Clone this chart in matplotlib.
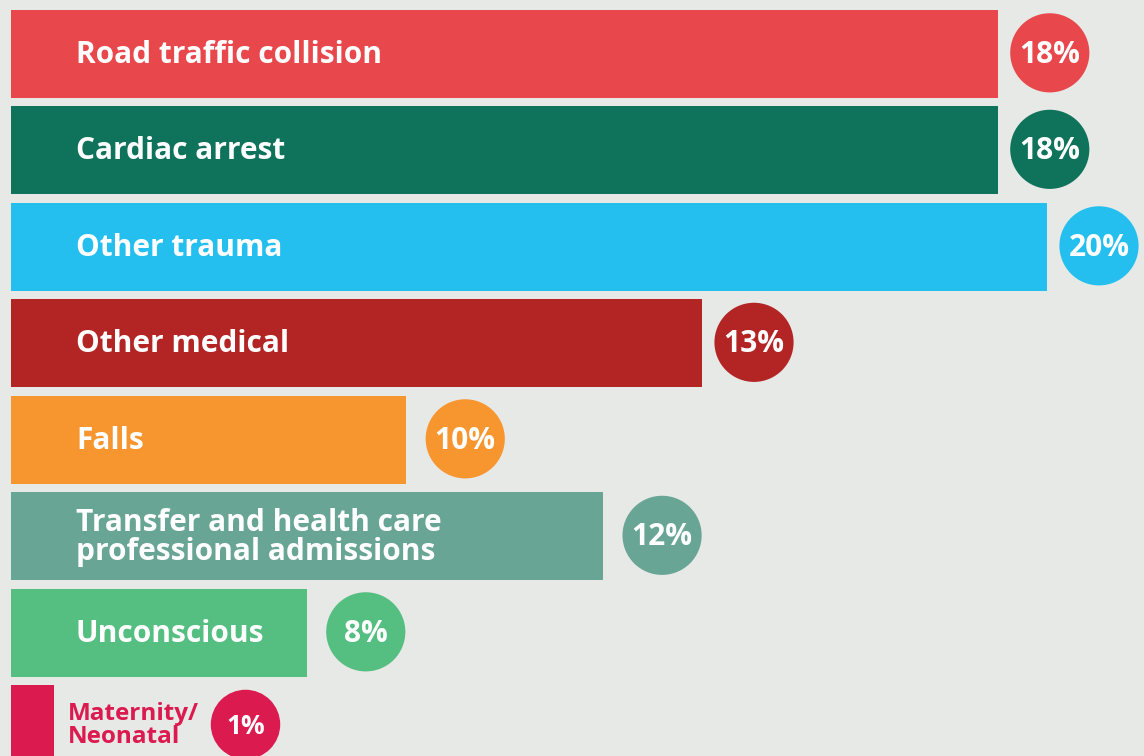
import matplotlib.pyplot as plt

# categories, top to bottom
categories = ["Road traffic collision", "Cardiac arrest", "Other trauma", "Other medical",
              "Falls", "Transfer and health care\nprofessional admissions", "Unconscious",
              "Maternity/\nNeonatal"]
# bar lengths as drawn in the graphic (not strictly proportional to the labels)
bar_lengths = [19.05, 19.05, 20.0, 13.34, 7.63, 11.43, 5.71, 0.83]
pct_labels = ["18%", "18%", "20%", "13%", "10%", "12%", "8%", "1%"]
colors = ["#E8484C", "#0E735A", "#24BFEE", "#B32425", "#F7952F", "#68A595", "#55BE81", "#DB1B4F"]

BG = "#E7E9E6"
FONT = "Open Sans"

W, H, DPI = 1144, 756, 100
fig = plt.figure(figsize=(W / DPI, H / DPI), dpi=DPI, facecolor=BG)

px_per_unit = 51.8
left_px = 11
ax = fig.add_axes([left_px / W, 0, 1 - left_px / W, 1])
ax.set_facecolor(BG)
ax.set_xlim(0, (W - left_px) / px_per_unit)
pitch = 96.5
top_center = 53.8
ax.set_ylim((H - top_center) / pitch, -top_center / pitch)
ax.axis("off")

ys = list(range(len(categories)))
ax.barh(ys, bar_lengths, height=0.91, color=colors, left=0)

last = len(categories) - 1
for i, (cat, L, pct, c) in enumerate(zip(categories, bar_lengths, pct_labels, colors)):
    if i < last:
        ax.text(65 / px_per_unit, i + 0.01, cat, color="white", fontsize=21.5, fontweight="bold",
                family=FONT, va="center", ha="left", linespacing=0.95)
        # small bars get a slightly wider gap before the bubble
        cx = L + (52 + 7 * (L < 12)) / px_per_unit
        cy = i - 0.01
        size = 57 ** 2
        fs = 21.5
    else:
        ax.text(57 / px_per_unit, i - 0.04, cat, color=c, fontsize=17.5, fontweight="bold",
                family=FONT, va="center", ha="left", linespacing=0.95)
        cx = (245.5 - left_px) / px_per_unit
        cy = i - 0.05
        size = 50 ** 2
        fs = 19
    ax.scatter([cx], [cy], s=size, color=c, edgecolors="none", zorder=3)
    ax.text(cx, cy + 0.02, pct, color="white", fontsize=fs, fontweight="bold", family=FONT,
            ha="center", va="center", zorder=4)

fig.savefig("out.png", dpi=DPI, facecolor=BG)
